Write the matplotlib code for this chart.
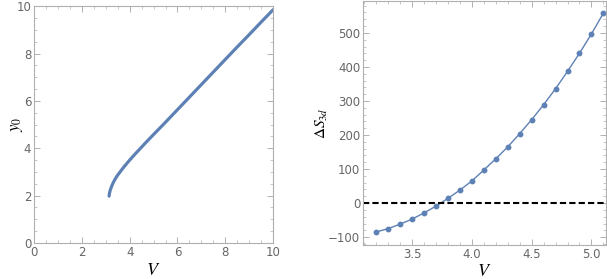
import matplotlib
matplotlib.use("Agg")
import matplotlib.pyplot as plt
from matplotlib.ticker import MultipleLocator

plt.rcParams["mathtext.fontset"] = "stix"

# data ---------------------------------------------------------------
v_left = [3.14, 3.16, 3.18, 3.2, 3.25, 3.3, 3.35, 3.4, 3.5, 3.6, 3.75, 4.0,
          4.25, 4.5, 4.75, 5.0, 5.5, 6.0, 6.5, 7.0, 7.5, 8.0, 8.5, 9.0,
          9.5, 10.0]
y0_left = [1.98, 2.12, 2.2, 2.27, 2.4, 2.52, 2.62, 2.71, 2.87, 3.0, 3.2, 3.5,
           3.78, 4.05, 4.32, 4.58, 5.1, 5.63, 6.16, 6.69, 7.22, 7.75, 8.28,
           8.8, 9.33, 9.85]

v_right = [3.2, 3.3, 3.4, 3.5, 3.6, 3.7, 3.8, 3.9, 4.0, 4.1,
           4.2, 4.3, 4.4, 4.5, 4.6, 4.7, 4.8, 4.9, 5.0, 5.1]
ds_right = [-85, -75, -62, -47, -29, -9, 14, 38, 65, 97,
            130, 165, 204, 245, 289, 336, 387, 440, 497, 558]

blue = "#5E81B5"
frame = "#b0b0b0"
tickc = "#666666"

fig = plt.figure(figsize=(6.07, 2.79), dpi=100)
ax1 = fig.add_axes([0.056, 0.129, 0.394, 0.849])
ax2 = fig.add_axes([0.598, 0.122, 0.400, 0.876])

# left panel ---------------------------------------------------------
ax1.plot(v_left, y0_left, color=blue, lw=2.3, solid_capstyle="round")
ax1.set_xlim(0, 10)
ax1.set_ylim(0, 10)
ax1.xaxis.set_major_locator(MultipleLocator(2))
ax1.xaxis.set_minor_locator(MultipleLocator(0.5))
ax1.yaxis.set_major_locator(MultipleLocator(2))
ax1.yaxis.set_minor_locator(MultipleLocator(0.5))
ax1.set_xlabel("$V$", fontsize=13)
ax1.set_ylabel("$y_0$", fontsize=12)
ax1.xaxis.set_label_coords(0.5, -0.075)
ax1.yaxis.set_label_coords(-0.037, 0.5)

# right panel --------------------------------------------------------
ax2.plot(v_right, ds_right, color=blue, lw=1.0, marker="o", markersize=3.2)
ax2.axhline(0, color="black", lw=1.5, ls=(0, (3, 1.5)))
ax2.set_xlim(3.09, 5.12)
ax2.set_ylim(-123, 595)
ax2.xaxis.set_major_locator(MultipleLocator(0.5))
ax2.xaxis.set_minor_locator(MultipleLocator(0.1))
ax2.yaxis.set_major_locator(MultipleLocator(100))
ax2.yaxis.set_minor_locator(MultipleLocator(20))
ax2.xaxis.set_major_formatter(plt.FuncFormatter(lambda v, p: f"{v:.1f}"))
ax2.yaxis.set_major_formatter(plt.FuncFormatter(lambda v, p: f"{v:.0f}".replace("-", "\u2212")))
ax2.set_xlabel("$V$", fontsize=13)
ax2.set_ylabel(r"$\Delta S_{3d}$", fontsize=11)
ax2.xaxis.set_label_coords(0.5, -0.068)
ax2.yaxis.set_label_coords(-0.136, 0.5)

for ax in (ax1, ax2):
    for s in ax.spines.values():
        s.set_color(frame)
        s.set_linewidth(0.8)
    ax.tick_params(which="both", direction="in", color=frame,
                   labelcolor=tickc, labelsize=8.5, top=True, right=True)
    ax.tick_params(which="major", length=4, width=0.7)
    ax.tick_params(which="minor", length=2, width=0.5)
    ax.tick_params(axis="x", pad=2)
    ax.tick_params(axis="y", pad=2)

fig.savefig("out.png", dpi=100)
